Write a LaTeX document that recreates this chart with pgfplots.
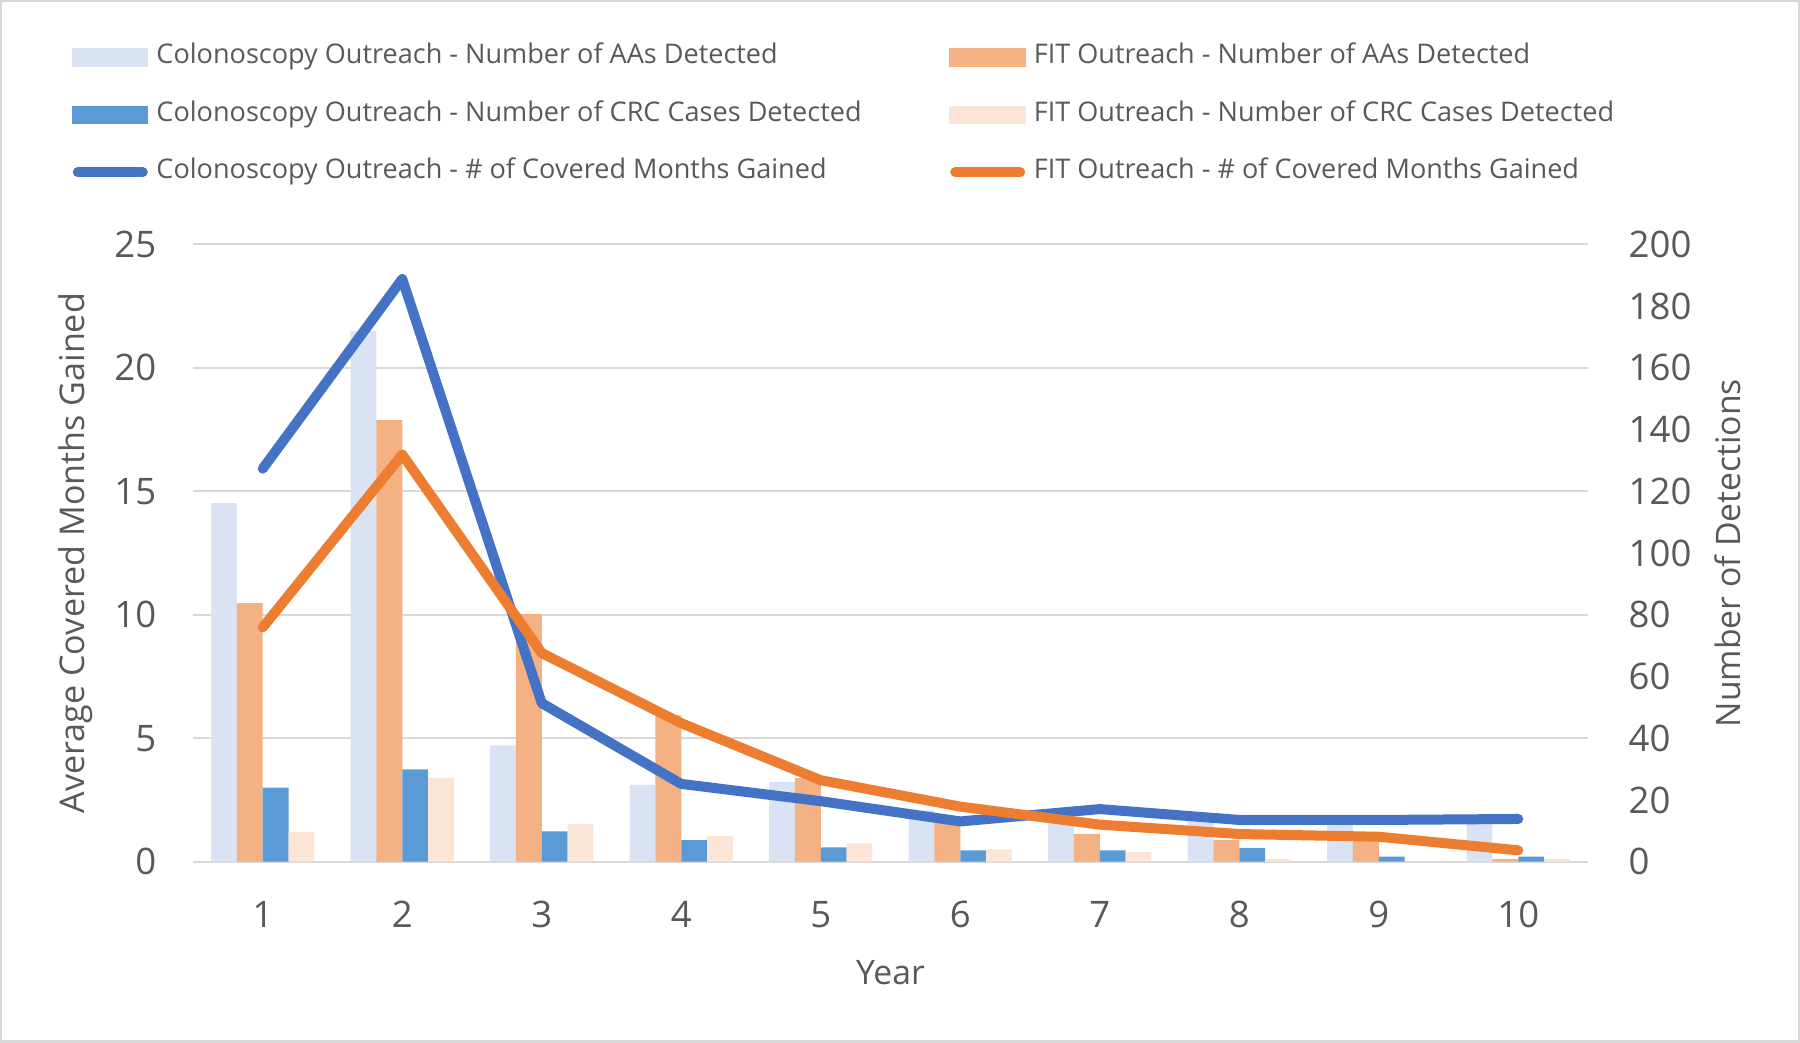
\documentclass[border=0pt]{standalone}
\usepackage{pgfplots}
\pgfplotsset{compat=1.18}
\usepackage{fontspec}
\setmainfont{Open Sans}
\definecolor{colAA}{HTML}{DAE3F3}
\definecolor{fitAA}{HTML}{F4B183}
\definecolor{colCRC}{HTML}{5B9BD5}
\definecolor{fitCRC}{HTML}{FBE5D6}
\definecolor{colLine}{HTML}{4472C4}
\definecolor{fitLine}{HTML}{ED7D31}
\definecolor{gridgray}{HTML}{D9D9D9}
\definecolor{txtgray}{HTML}{595959}
\begin{document}
\begin{tikzpicture}
\useasboundingbox (0,0) rectangle (180mm,104.3mm);
\draw[gridgray, line width=0.25mm] (0.125mm,0.125mm) rectangle (179.875mm,104.175mm);
\begin{axis}[
  at={(19.3mm,18.13mm)}, anchor=south west,
  scale only axis, width=139.5mm, height=61.72mm,
  xmin=0.5, xmax=10.5, ymin=0, ymax=200,
  axis line style={draw=none},
  major tick style={draw=none}, minor tick style={draw=none},
  xtick={1,...,10},
  ytick={0,20,...,200},
  yticklabel pos=right,
  extra y ticks={0,40,...,200}, extra y tick labels={},
  extra y tick style={grid=major},
  major grid style={draw=gridgray, line width=0.2mm},
  /pgf/number format/assume math mode=true,
  ticklabel style={font=\fontsize{10.4}{12}\selectfont, text=txtgray},
  xticklabel style={anchor=center, yshift=-3.75mm},
  yticklabel style={anchor=west, inner sep=0pt, xshift=4mm},
  every axis y label/.style={at={(axis description cs:1.1003,0.5)}, anchor=center, rotate=90},
  every axis x label/.style={at={(axis description cs:0.5,-0.179)}, anchor=center},
  label style={font=\fontsize{9.6}{11}\selectfont, text=txtgray},
  xlabel={Year}, ylabel={Number of Detections},
  ybar=0pt, bar width=0.185,
]
\addplot[fill=colAA, draw=none, bar shift=-0.2775] coordinates {(1,116.2) (2,171.9) (3,37.7) (4,24.9) (5,25.8) (6,16.6) (7,14.5) (8,13.5) (9,13.0) (10,13.6)};
\addplot[fill=fitAA, draw=none, bar shift=-0.0925] coordinates {(1,83.8) (2,143.1) (3,80.2) (4,47.4) (5,27.1) (6,13.0) (7,9.0) (8,7.1) (9,8.0) (10,0.8)};
\addplot[fill=colCRC, draw=none, bar shift=0.0925] coordinates {(1,24.0) (2,29.9) (3,9.8) (4,7.0) (5,4.6) (6,3.7) (7,3.7) (8,4.5) (9,1.6) (10,1.6)};
\addplot[fill=fitCRC, draw=none, bar shift=0.2775] coordinates {(1,9.6) (2,27.2) (3,12.2) (4,8.4) (5,5.9) (6,4.0) (7,3.1) (8,0.8) (9,0) (10,0.8)};
\end{axis}
\begin{axis}[
  at={(19.3mm,18.13mm)}, anchor=south west,
  scale only axis, width=139.5mm, height=61.72mm,
  xmin=0.5, xmax=10.5, ymin=0, ymax=25,
  axis line style={draw=none},
  major tick style={draw=none}, minor tick style={draw=none},
  xtick=\empty,
  ytick={0,5,...,25},
  /pgf/number format/assume math mode=true,
  ticklabel style={font=\fontsize{10.4}{12}\selectfont, text=txtgray},
  yticklabel style={anchor=east, inner sep=0pt, xshift=-3.6mm},
  every axis y label/.style={at={(axis description cs:-0.0839,0.5)}, anchor=center, rotate=90},
  label style={font=\fontsize{9.7}{11}\selectfont, text=txtgray},
  ylabel={Average Covered Months Gained},
  legend columns=2,
  legend cell align=left,
  legend style={at={(axis description cs:-0.0867,1.3234)}, anchor=north west,
    draw=none, fill=none, inner sep=0pt, outer sep=0pt,
    column sep=0.8mm, row sep=3.25mm,
    font=\fontsize{7.7}{9}\selectfont, text=txtgray,
    nodes={inner sep=0pt, text height=1.9mm, text depth=0.6mm}},
]
\addlegendimage{legend image code/.code={\fill[colAA] (0mm,-0.85mm) rectangle (7.5mm,0.85mm);}}
\addlegendentry{\makebox[78.5mm][l]{Colonoscopy Outreach - Number of AAs Detected}}
\addlegendimage{legend image code/.code={\fill[fitAA] (0mm,-0.85mm) rectangle (7.5mm,0.85mm);}}
\addlegendentry{FIT Outreach - Number of AAs Detected}
\addlegendimage{legend image code/.code={\fill[colCRC] (0mm,-0.85mm) rectangle (7.5mm,0.85mm);}}
\addlegendentry{\makebox[78.5mm][l]{Colonoscopy Outreach - Number of CRC Cases Detected}}
\addlegendimage{legend image code/.code={\fill[fitCRC] (0mm,-0.85mm) rectangle (7.5mm,0.85mm);}}
\addlegendentry{FIT Outreach - Number of CRC Cases Detected}
\addlegendimage{legend image code/.code={\draw[colLine, line width=1mm, line cap=round] (0.5mm,0mm) -- (7mm,0mm);}}
\addlegendentry{\makebox[78.5mm][l]{Colonoscopy Outreach - \# of Covered Months Gained}}
\addlegendimage{legend image code/.code={\draw[fitLine, line width=1mm, line cap=round] (0.5mm,0mm) -- (7mm,0mm);}}
\addlegendentry{FIT Outreach - \# of Covered Months Gained}
\addplot[forget plot, colLine, line width=1mm, line cap=round, line join=round] coordinates {(1,15.92) (2,23.6) (3,6.42) (4,3.15) (5,2.45) (6,1.63) (7,2.13) (8,1.69) (9,1.69) (10,1.73)};
\addplot[forget plot, fitLine, line width=1mm, line cap=round, line join=round] coordinates {(1,9.49) (2,16.49) (3,8.45) (4,5.61) (5,3.30) (6,2.23) (7,1.50) (8,1.12) (9,1.01) (10,0.46)};
\end{axis}
\end{tikzpicture}
\end{document}
